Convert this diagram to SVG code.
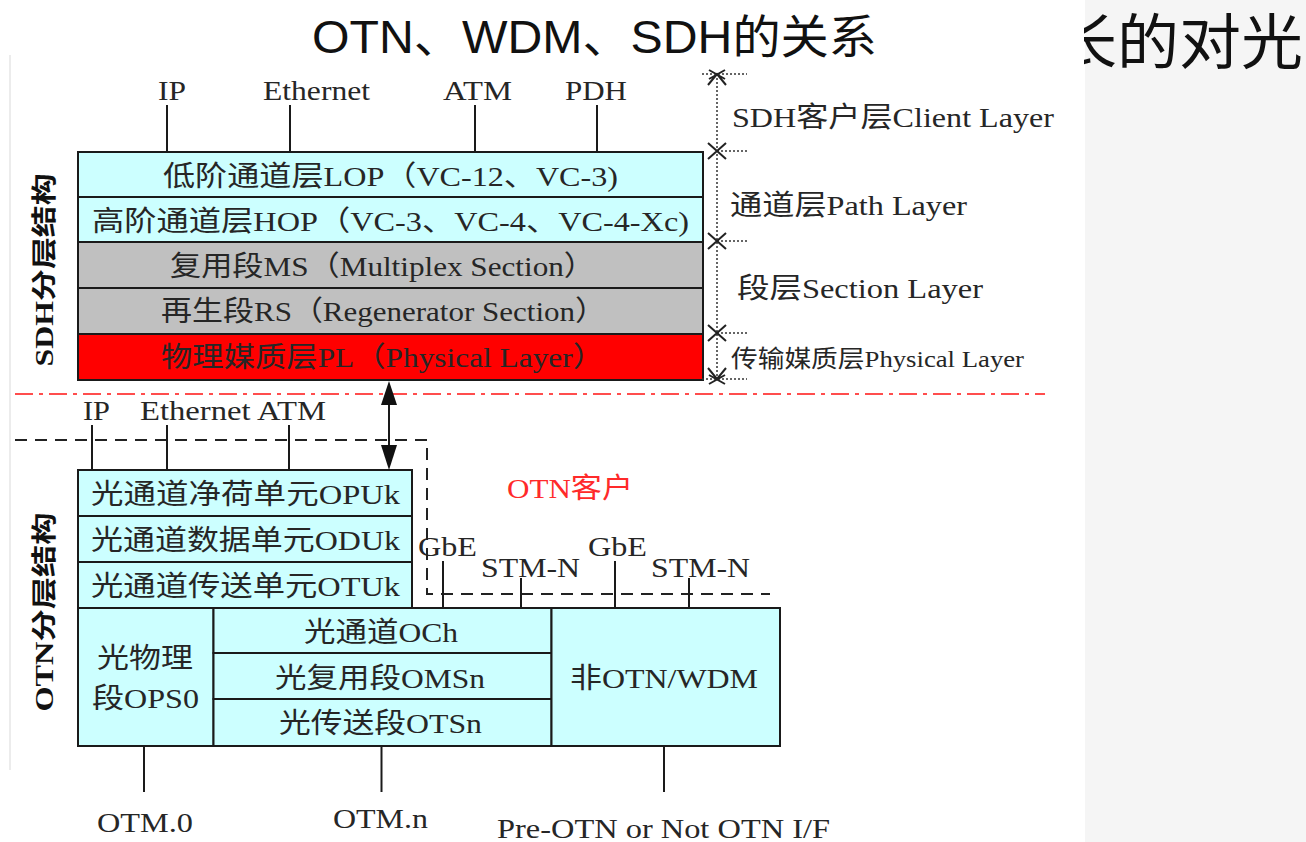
<svg xmlns="http://www.w3.org/2000/svg" width="1306" height="842" viewBox="0 0 1306 842">
  <defs>
    <style>
      .bx{stroke:#1a1a1a;stroke-width:2}
      .cy{fill:#ccffff}
      .gr{fill:#c0c0c0}
      .rd{fill:#ff0000}
      .t{font-family:"Liberation Serif","Noto Sans CJK SC",serif;font-size:28px;fill:#262626}
      .s{font-size:24px}
      .lb{font-family:"Liberation Serif","Noto Sans CJK SC",serif;font-size:25px;font-weight:bold;fill:#111}
      .ln{stroke:#1a1a1a;stroke-width:2;fill:none}
      .dot{stroke:#333;stroke-width:1.5;stroke-dasharray:2 2;fill:none}
      .xm{stroke:#222;stroke-width:2;fill:none}
    </style>
    <clipPath id="edgeClip">
      <rect x="1084" y="0" width="222" height="100"/>
    </clipPath>
  </defs>

  <!-- page background -->
  <rect x="0" y="0" width="1306" height="842" fill="#ffffff"/>
  <rect x="1085" y="0" width="221" height="842" fill="#f5f5f5"/>
  <line x1="10" y1="55" x2="10" y2="770" stroke="#e6e6e6" stroke-width="1.5"/>

  <!-- heading -->
  <text id="title" x="312" y="53" font-family="'Liberation Sans','Noto Sans CJK SC',sans-serif" font-size="46" fill="#111" textLength="565" lengthAdjust="spacingAndGlyphs">OTN、WDM、SDH的关系</text>
  <!-- slide heading running off the right edge, left part hidden behind the figure -->
  <g clip-path="url(#edgeClip)">
    <text x="1055" y="64" font-family="'Noto Sans CJK SC',serif" font-size="60" fill="#111" textLength="248" lengthAdjust="spacingAndGlyphs">长的对光</text>
  </g>

  <!-- side captions -->
  <text class="lb" transform="translate(44,270) rotate(-90)" x="0" y="9" text-anchor="middle" textLength="193" lengthAdjust="spacingAndGlyphs">SDH分层结构</text>
  <text class="lb" transform="translate(44,612) rotate(-90)" x="0" y="9" text-anchor="middle" textLength="199" lengthAdjust="spacingAndGlyphs">OTN分层结构</text>

  <!-- SDH client labels -->
  <g id="sdh-clients">
    <text class="t" x="158" y="100" textLength="28" lengthAdjust="spacingAndGlyphs">IP</text>
    <text class="t" x="263" y="100" textLength="107" lengthAdjust="spacingAndGlyphs">Ethernet</text>
    <text class="t" x="443" y="100" textLength="69" lengthAdjust="spacingAndGlyphs">ATM</text>
    <text class="t" x="565" y="100" textLength="62" lengthAdjust="spacingAndGlyphs">PDH</text>
  </g>

  <!-- SDH layer stack -->
  <g id="sdh-lop">
    <rect class="bx cy" x="78" y="152" width="625" height="45"/>
    <text class="t" x="163" y="186" textLength="455" lengthAdjust="spacingAndGlyphs">低阶通道层LOP（VC-12、VC-3)</text>
  </g>
  <g id="sdh-hop">
    <rect class="bx cy" x="78" y="197" width="625" height="45"/>
    <text class="t" x="92" y="231" textLength="597" lengthAdjust="spacingAndGlyphs">高阶通道层HOP（VC-3、VC-4、VC-4-Xc)</text>
  </g>
  <g id="sdh-ms">
    <rect class="bx gr" x="78" y="242" width="625" height="46"/>
    <text class="t" x="170" y="276" textLength="425" lengthAdjust="spacingAndGlyphs">复用段MS（Multiplex Section）</text>
  </g>
  <g id="sdh-rs">
    <rect class="bx gr" x="78" y="288" width="625" height="46"/>
    <text class="t" x="161" y="321" textLength="445" lengthAdjust="spacingAndGlyphs">再生段RS（Regenerator Section）</text>
  </g>
  <g id="sdh-pl">
    <rect class="bx rd" x="78" y="334" width="625" height="46"/>
    <text class="t" x="161" y="367" textLength="443" lengthAdjust="spacingAndGlyphs">物理媒质层PL（Physical Layer）</text>
  </g>

  <!-- SDH layer scale on the right -->
  <g id="sdh-scale">
    <line class="dot" x1="717" y1="74" x2="717" y2="379"/>
    <line class="dot" x1="702" y1="74" x2="747" y2="74"/>
    <line class="dot" x1="717" y1="151" x2="747" y2="151"/>
    <line class="dot" x1="717" y1="241" x2="747" y2="241"/>
    <line class="dot" x1="717" y1="333" x2="747" y2="333"/>
    <line class="dot" x1="702" y1="379" x2="747" y2="379"/>
    <path class="xm" d="M708,85 L717,74 L726,85 M709,70 L725,79 M725,70 L709,79"/>
    <path class="xm" d="M708,143 L726,159 M708,159 L726,143"/>
    <path class="xm" d="M708,233 L726,249 M708,249 L726,233"/>
    <path class="xm" d="M708,325 L726,341 M708,341 L726,325"/>
    <path class="xm" d="M708,368 L717,379 L726,368 M709,375 L725,384 M725,375 L709,384"/>
    <text class="t" x="732" y="127" font-size="29" textLength="322" lengthAdjust="spacingAndGlyphs">SDH客户层Client Layer</text>
    <text class="t" x="730" y="215" font-size="29" textLength="237" lengthAdjust="spacingAndGlyphs">通道层Path Layer</text>
    <text class="t" x="737" y="298" font-size="29" textLength="246" lengthAdjust="spacingAndGlyphs">段层Section Layer</text>
    <text class="t s" x="731" y="367" textLength="293" lengthAdjust="spacingAndGlyphs">传输媒质层Physical Layer</text>
  </g>

  <!-- boundary between SDH and OTN -->
  <line x1="15" y1="394" x2="1045" y2="394" stroke="#ff4d4d" stroke-width="2" stroke-dasharray="18 6 4 6"/>

  <!-- OTN client labels -->
  <g id="otn-clients">
    <text class="t" x="83" y="420" textLength="27" lengthAdjust="spacingAndGlyphs">IP</text>
    <text class="t" x="140" y="420" textLength="186" lengthAdjust="spacingAndGlyphs">Ethernet ATM</text>
    <text class="t" x="507" y="498" font-size="29" style="fill:#ff2a2a" textLength="126" lengthAdjust="spacingAndGlyphs">OTN客户</text>
    <text class="t" x="418" y="556" textLength="59" lengthAdjust="spacingAndGlyphs">GbE</text>
    <text class="t" x="481" y="577" textLength="99" lengthAdjust="spacingAndGlyphs">STM-N</text>
    <text class="t" x="588" y="556" textLength="59" lengthAdjust="spacingAndGlyphs">GbE</text>
    <text class="t" x="651" y="577" textLength="99" lengthAdjust="spacingAndGlyphs">STM-N</text>
  </g>

  <!-- OTN digital layers -->
  <g id="otn-opuk">
    <rect class="bx cy" x="78" y="470" width="334" height="46"/>
    <text class="t" x="91" y="504" textLength="309" lengthAdjust="spacingAndGlyphs">光通道净荷单元OPUk</text>
  </g>
  <g id="otn-oduk">
    <rect class="bx cy" x="78" y="516" width="334" height="46"/>
    <text class="t" x="91" y="550" textLength="309" lengthAdjust="spacingAndGlyphs">光通道数据单元ODUk</text>
  </g>
  <g id="otn-otuk">
    <rect class="bx cy" x="78" y="562" width="334" height="46"/>
    <text class="t" x="91" y="596" textLength="309" lengthAdjust="spacingAndGlyphs">光通道传送单元OTUk</text>
  </g>

  <!-- OTN optical layers -->
  <g id="otn-ops0">
    <rect class="bx cy" x="78" y="608" width="135.5" height="138"/>
    <text class="t" x="97" y="668" textLength="96" lengthAdjust="spacingAndGlyphs">光物理</text>
    <text class="t" x="92" y="708" textLength="107" lengthAdjust="spacingAndGlyphs">段OPS0</text>
  </g>
  <g id="otn-och">
    <rect class="bx cy" x="213.5" y="608" width="338" height="45"/>
    <text class="t" x="304" y="642" textLength="154" lengthAdjust="spacingAndGlyphs">光通道OCh</text>
  </g>
  <g id="otn-omsn">
    <rect class="bx cy" x="213.5" y="653" width="338" height="46"/>
    <text class="t" x="275" y="688" textLength="210" lengthAdjust="spacingAndGlyphs">光复用段OMSn</text>
  </g>
  <g id="otn-otsn">
    <rect class="bx cy" x="213.5" y="699" width="338" height="47"/>
    <text class="t" x="279" y="733" textLength="203" lengthAdjust="spacingAndGlyphs">光传送段OTSn</text>
  </g>
  <g id="non-otn">
    <rect class="bx cy" x="551.5" y="608" width="228.5" height="138"/>
    <text class="t" x="570" y="688" textLength="188" lengthAdjust="spacingAndGlyphs">非OTN/WDM</text>
  </g>

  <!-- interface labels -->
  <g id="interfaces">
    <text class="t" x="97" y="832" textLength="96" lengthAdjust="spacingAndGlyphs">OTM.0</text>
    <text class="t" x="333" y="828" textLength="95" lengthAdjust="spacingAndGlyphs">OTM.n</text>
    <text class="t" x="497" y="838" textLength="333" lengthAdjust="spacingAndGlyphs">Pre-OTN or Not OTN I/F</text>
  </g>

  <!-- connectors -->
  <g id="connectors">
    <!-- SDH clients -->
    <line class="ln" x1="167" y1="105" x2="167" y2="152"/>
    <line class="ln" x1="290" y1="105" x2="290" y2="152"/>
    <line class="ln" x1="475" y1="105" x2="475" y2="152"/>
    <line class="ln" x1="597" y1="105" x2="597" y2="152"/>
    <!-- OTN client boundary -->
    <path d="M15,440 H427 V594 H770" fill="none" stroke="#222" stroke-width="2" stroke-dasharray="12 8"/>
    <!-- OTN clients -->
    <line class="ln" x1="92" y1="425" x2="92" y2="470"/>
    <line class="ln" x1="167" y1="425" x2="167" y2="470"/>
    <line class="ln" x1="289" y1="425" x2="289" y2="470"/>
    <line class="ln" x1="443" y1="561" x2="443" y2="608"/>
    <line class="ln" x1="521" y1="578" x2="521" y2="608"/>
    <line class="ln" x1="615" y1="561" x2="615" y2="608"/>
    <line class="ln" x1="689" y1="578" x2="689" y2="608"/>
    <!-- SDH over OTN mapping -->
    <line class="ln" x1="389" y1="400" x2="389" y2="452"/>
    <polygon points="389,381 381,405 397,405" fill="#111"/>
    <polygon points="389,470 381,445 397,445" fill="#111"/>
    <!-- module interfaces -->
    <line class="ln" x1="144" y1="746" x2="144" y2="792"/>
    <line class="ln" x1="381.5" y1="746" x2="381.5" y2="792"/>
    <line class="ln" x1="664" y1="746" x2="664" y2="792"/>
  </g>
</svg>
